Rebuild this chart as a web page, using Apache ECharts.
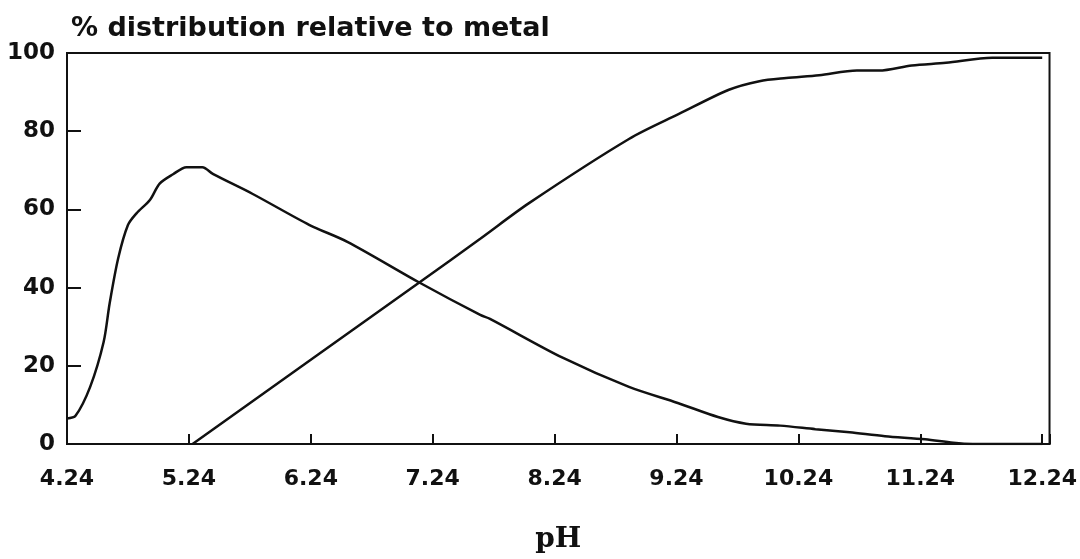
<!DOCTYPE html>
<html>
<head>
<meta charset="utf-8">
<script src="https://cdn.jsdelivr.net/npm/echarts@6/dist/echarts.min.js"></script>
<style>html,body{margin:0;padding:0;background:#fff;}#c{width:1080px;height:559px;}</style>
</head>
<body>
<div id="c"></div>
<script>
// pH values and % distribution for the two species
const pH1 = [4.24, 4.31, 4.43, 4.54, 4.59, 4.66, 4.74, 4.81, 4.92, 5.00, 5.11, 5.22, 5.35, 5.44, 5.76, 6.23, 6.54, 7.13, 7.63, 7.71, 8.31, 8.85, 9.25, 9.58, 9.81, 10.09, 10.38, 10.66, 10.95, 11.28, 11.51, 11.67, 12.24];
const pct1 = [6.5, 7.2, 14.6, 26, 36, 47.5, 56, 59, 62.4, 66.6, 69, 70.8, 70.8, 69, 64, 56, 51.7, 41.3, 33, 32, 22, 14.6, 10.5, 6.9, 5.2, 4.7, 3.8, 3.0, 2.0, 1.2, 0.3, 0, 0];
const pH2 = [5.27, 6.26, 7.13, 7.63, 8.03, 8.85, 9.26, 9.67, 9.92, 10.14, 10.41, 10.72, 10.90, 11.17, 11.45, 11.83, 12.24];
const pct2 = [0, 22, 41.3, 52.5, 61.6, 78, 84.4, 90.6, 92.8, 93.6, 94.3, 95.5, 95.5, 96.8, 97.5, 98.8, 98.8];
const xTicks = [4.24, 5.24, 6.24, 7.24, 8.24, 9.24, 10.24, 11.24, 12.24];
const yTicks = [0, 20, 40, 60, 80, 100];

const titleText = '% distribution relative to metal';
const xName = 'pH';

const chart = echarts.init(document.getElementById('c'), null, {renderer: 'canvas'});
const lbl = {fontFamily: 'DejaVu Sans', fontWeight: 'bold', color: '#111'};
chart.setOption({
  backgroundColor: '#fff',
  animation: false,
  title: {
    text: titleText, left: 66, top: 10,
    textStyle: Object.assign({}, lbl, {fontSize: 27})
  },
  grid: {left: 67, right: 28, top: 53, bottom: 99, show: true, borderColor: '#111', borderWidth: 2},
  xAxis: {
    type: 'value', min: xTicks[0], max: 12.30, interval: 1,
    name: xName, nameLocation: 'middle', nameGap: 82,
    nameTextStyle: {fontFamily: 'DejaVu Serif', fontWeight: 'bold', fontSize: 28, color: '#111'},
    axisLine: {lineStyle: {color: '#111', width: 2}},
    axisTick: {inside: true, length: 10, lineStyle: {color: '#111', width: 2}},
    splitLine: {show: false},
    axisLabel: Object.assign({}, lbl, {
      fontSize: 22, margin: 24, showMaxLabel: true,
      formatter: function (v) {
        for (const t of xTicks) if (Math.abs(v - t) < 0.01) return t.toFixed(2);
        return '';
      }
    })
  },
  yAxis: {
    type: 'value', min: yTicks[0], max: yTicks[yTicks.length - 1], interval: 20,
    axisLine: {show: true, lineStyle: {color: '#111', width: 2}},
    axisTick: {inside: true, length: 14, lineStyle: {color: '#111', width: 2}},
    splitLine: {show: false},
    axisLabel: Object.assign({}, lbl, {fontSize: 23, margin: 12})
  },
  series: [
    {type: 'line', data: pH1.map((x, i) => [x, pct1[i]]), showSymbol: false, smooth: 0.3,
     lineStyle: {color: '#111', width: 2.5}},
    {type: 'line', data: pH2.map((x, i) => [x, pct2[i]]), showSymbol: false, smooth: 0.3,
     lineStyle: {color: '#111', width: 2.5}}
  ]
});
</script>
</body>
</html>
